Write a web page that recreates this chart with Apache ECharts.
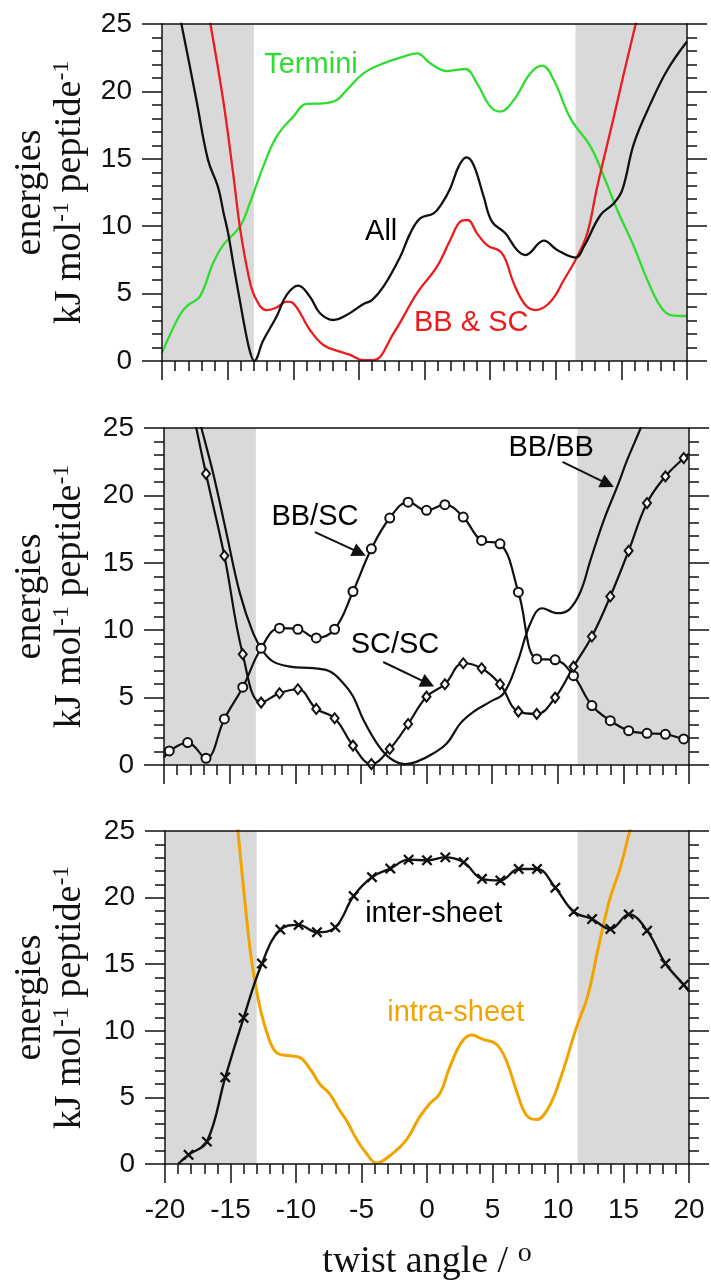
<!DOCTYPE html>
<html>
<head>
<meta charset="utf-8">
<script src="https://cdn.jsdelivr.net/npm/echarts@6.0.0/dist/echarts.min.js"></script>
<style>
	html, body { margin: 0; padding: 0; background: #fff; }
	#chart { width: 711px; height: 1282px; }
</style>
</head>
<body>
<div id="chart"></div>
<script>
// x range and shaded twist regions
var xTicks = [-20, 20, 5];
var yTicks = [0, 25, 5];
var shadeLeft = [-20, -13];
var shadeRight = [11.5, 20];

// panel 1
var allEnergy = [[-20, 32], [-18.52, 25], [-17.38, 19.36], [-16.49, 14.9], [-15.73, 12.9], [-15.3, 10.95], [-14.96, 9.47], [-14.53, 7.0], [-14.07, 4.5], [-13.61, 2.05], [-13.26, 0.57], [-12.98, 0], [-12.3, 1.5], [-11.27, 3.3], [-10.5, 4.9], [-9.62, 5.59], [-8.73, 4.77], [-7.96, 3.54], [-6.95, 3.04], [-5.93, 3.41], [-4.65, 4.23], [-4.0, 4.52], [-3.13, 5.51], [-1.85, 7.74], [-1.09, 9.47], [-0.33, 10.58], [0.69, 10.95], [1.33, 11.7], [1.96, 12.8], [2.6, 14.42], [3.19, 15.1], [3.74, 14.54], [4.51, 12.19], [5.14, 10.34], [6.16, 9.47], [7.05, 8.23], [7.69, 7.86], [9.09, 8.93], [10.11, 8.23], [11.5, 7.67], [12.14, 8.48], [13.41, 10.83], [14.43, 11.7], [15.07, 12.69], [15.96, 16.15], [17.23, 19.11], [18.5, 21.59], [20, 23.7]];
var bbAndSc = [[-16.6, 26.5], [-16.31, 25], [-15.34, 19.36], [-14.58, 13.92], [-14.07, 9.97], [-13.44, 6.5], [-12.93, 4.77], [-12.04, 3.78], [-11.3, 3.95], [-10.51, 4.4], [-10.0, 4.28], [-8.73, 2.3], [-7.71, 1.19], [-6.44, 0.69], [-5.67, 0.45], [-4.65, 0.07], [-3.89, 0.07], [-2.36, 2.05], [-0.58, 5.02], [0.95, 7.0], [1.96, 8.98], [2.73, 10.34], [3.29, 10.46], [4.0, 9.47], [4.76, 8.6], [5.91, 7.99], [6.8, 5.76], [7.69, 4.15], [8.45, 3.78], [9.6, 4.4], [10.62, 6.01], [11.63, 7.74], [12.4, 9.47], [13.16, 12.93], [14.43, 18.13], [15.19, 21.34], [16.09, 25], [16.4, 26.2]];
var termini = [[-20, 0.6], [-18.65, 3.41], [-18.02, 4.15], [-17.12, 4.77], [-16.11, 7.25], [-15.34, 8.6], [-14.07, 9.97], [-13.31, 11.7], [-12.29, 14.42], [-11.27, 16.64], [-10.0, 18.13], [-8.98, 19.07], [-7.71, 19.11], [-6.69, 19.36], [-5.93, 20.1], [-4.65, 21.34], [-3.13, 22.08], [-1.6, 22.58], [-0.58, 22.82], [0.44, 22.08], [1.71, 21.51], [3.11, 21.66], [4.0, 20.6], [5.02, 18.87], [5.78, 18.5], [6.8, 19.36], [8.07, 21.34], [8.96, 21.91], [9.85, 20.85], [11.12, 18.0], [12.65, 15.9], [13.67, 13.67], [14.69, 11.2], [15.96, 8.48], [16.98, 6.01], [17.99, 4.03], [18.76, 3.41], [20, 3.34]];

// panel 2 (markers sit on the 1.4 degree grid)
var bbSc = [[-20, 0.55], [-19.6, 1.04], [-18.2, 1.66], [-16.8, 0.5], [-15.4, 3.42], [-14.0, 5.77], [-12.6, 8.66], [-11.2, 10.15], [-9.8, 10.07], [-8.4, 9.43], [-7.0, 10.07], [-5.6, 12.87], [-4.2, 16.04], [-2.8, 18.32], [-1.4, 19.5], [0, 18.89], [1.4, 19.31], [2.8, 18.39], [4.2, 16.66], [5.6, 16.41], [7.0, 12.82], [8.4, 7.87], [9.8, 7.8], [11.2, 6.63], [12.6, 4.41], [14.0, 3.29], [15.4, 2.55], [16.8, 2.35], [18.2, 2.28], [19.6, 1.93], [20, 1.85]];
var scSc = [[-17.8, 26.2], [-16.8, 21.6], [-15.4, 15.52], [-14.0, 8.22], [-12.6, 4.63], [-11.2, 5.32], [-9.8, 5.62], [-8.4, 4.16], [-7.0, 3.47], [-5.6, 1.44], [-4.2, 0.07], [-2.8, 1.19], [-1.4, 3.04], [0, 5.07], [1.4, 5.99], [2.8, 7.55], [4.2, 7.18], [5.6, 5.99], [7.0, 3.96], [8.4, 3.79], [9.8, 5.0], [11.2, 7.3], [12.6, 9.53], [14.0, 12.5], [15.4, 15.89], [16.8, 19.43], [18.2, 21.41], [19.6, 22.77], [20, 23.1]];
var bbBb = [[-17.5, 26.3], [-17.15, 25], [-16.26, 21.66], [-15.24, 17.2], [-14.22, 12.75], [-13.21, 9.78], [-12.44, 8.42], [-11.68, 7.67], [-10.41, 7.3], [-8.63, 7.18], [-7.35, 6.93], [-6.34, 6.06], [-5.6, 5.1], [-4.8, 3.34], [-3.78, 1.61], [-2.77, 0.5], [-1.62, 0.07], [-0.73, 0.25], [0.54, 0.87], [1.56, 1.61], [2.58, 3.09], [3.6, 3.96], [4.87, 4.7], [5.88, 5.32], [6.9, 7.55], [7.92, 10.52], [8.81, 11.63], [9.96, 11.26], [10.85, 11.51], [11.74, 12.87], [12.5, 15.22], [13.52, 18.19], [14.54, 20.67], [15.3, 22.65], [16.32, 25], [16.7, 26]];

// panel 3
var interSheet = [[-19.0, 0], [-18.2, 0.69], [-16.8, 1.68], [-15.4, 6.51], [-14.0, 10.97], [-12.6, 15.05], [-11.2, 17.6], [-9.8, 17.95], [-8.4, 17.4], [-7.0, 17.77], [-5.6, 20.12], [-4.2, 21.53], [-2.8, 22.18], [-1.4, 22.85], [0, 22.8], [1.4, 23.02], [2.8, 22.65], [4.2, 21.41], [5.6, 21.29], [7.0, 22.15], [8.4, 22.15], [9.8, 20.74], [11.2, 18.94], [12.6, 18.39], [14.0, 17.65], [15.4, 18.74], [16.8, 17.52], [18.2, 15.05], [19.6, 13.45], [20, 12.94]];
var intraSheet = [[-14.6, 26.5], [-14.43, 25], [-13.92, 19.88], [-13.41, 15.42], [-12.9, 12.45], [-12.26, 9.98], [-11.5, 8.37], [-10.48, 8.12], [-9.72, 8.0], [-8.83, 7.0], [-8.19, 6.01], [-7.43, 5.27], [-6.67, 4.03], [-6.1, 3.2], [-5.4, 1.9], [-4.7, 0.9], [-3.86, 0.08], [-2.59, 0.82], [-1.57, 1.81], [-0.56, 3.54], [0.21, 4.53], [0.97, 5.27], [1.73, 7.25], [2.62, 9.11], [3.39, 9.68], [4.28, 9.36], [5.3, 8.99], [6.06, 7.75], [6.82, 5.52], [7.59, 3.66], [8.35, 3.34], [9.24, 4.16], [10.13, 6.26], [11.4, 10.22], [12.29, 12.7], [13.06, 16.16], [13.95, 19.88], [14.71, 22.1], [15.47, 25], [15.7, 26]];

var axisColor = '#111';
var crossPath = 'path://M0,0.7L0.7,0L5,4.3L9.3,0L10,0.7L5.7,5L10,9.3L9.3,10L5,5.7L0.7,10L0,9.3L4.3,5Z';

function init() {
	var grids = [
		{left: 162, top: 24, width: 525, height: 337},
		{left: 164, top: 428, width: 525, height: 337},
		{left: 165, top: 831, width: 524, height: 337}
	];
	var xAxes = [], yAxes = [], series = [];
	grids.forEach(function(g, i) {
		xAxes.push(bottomAxis(i, i === 2));
		xAxes.push(topAxis(i));
		yAxes.push(sideAxis(i, 'left', g.left - 90));
		yAxes.push(sideAxis(i, 'right', 0));
		series.push(shadeSeries(i));
	});

	//上图
	series.push(curve(0, 'Termini', termini, '#2fdc2f', 2.3));
	series.push(curve(0, 'BB & SC', bbAndSc, '#ec1c1c', 2.3));
	series.push(curve(0, 'All', allEnergy, '#111', 2.3));
	series.push(textSeries(0, [
		[-8.65, 21.96, 'Termini', '#2fdc2f'],
		[-3.3, 9.57, 'All', '#000'],
		[3.56, 2.82, 'BB & SC', '#ec1c1c']
	]));

	//中图
	var sc = curve(1, 'BB/SC', bbSc, '#111', 2.2, 'emptyCircle', 9);
	sc.markLine = arrows([
		[[-8.5, 17.28], [-5.1, 15.75]],
		[[10.36, 22.48], [13.8, 20.85]],
		[[-3.3, 7.64], [0.1, 6.05]]
	]);
	series.push(sc);
	series.push(curve(1, 'SC/SC', scSc, '#111', 2.2, 'emptyDiamond', [8, 10]));
	series.push(curve(1, 'BB/BB', bbBb, '#111', 2.2));
	series.push(textSeries(1, [
		[-8.5, 18.4, 'BB/SC', '#000'],
		[9.5, 23.5, 'BB/BB', '#000'],
		[-2.4, 8.9, 'SC/SC', '#000']
	]));

	//下图
	series.push(curve(2, 'intra-sheet', intraSheet, '#f2a300', 3));
	series.push(curve(2, 'inter-sheet', interSheet, '#111', 2.4, crossPath, 9));
	series.push(textSeries(2, [
		[0.51, 18.77, 'inter-sheet', '#000'],
		[2.19, 11.35, 'intra-sheet', '#f2a300']
	]));

	var option = {
		backgroundColor: '#fff',
		animation: false,
		grid: grids,
		xAxis: xAxes,
		yAxis: yAxes,
		series: series
	};
	var chart = echarts.init(document.getElementById('chart'));
	chart.setOption(option);
}

function tickStyle() {
	return {color: axisColor, width: 1.5};
}

function bottomAxis(gi, withLabels) {
	var axis = {
		type: 'value',
		gridIndex: gi,
		position: 'bottom',
		min: xTicks[0],
		max: xTicks[1],
		interval: xTicks[2],
		z: 5,
		axisLine: {show: true, onZero: false, lineStyle: tickStyle()},
		axisTick: {show: true, inside: false, length: 19, lineStyle: tickStyle()},
		minorTick: {show: true, splitNumber: 5, length: 10, lineStyle: tickStyle()},
		splitLine: {show: false},
		axisLabel: {
			show: withLabels,
			margin: 32,
			fontSize: 28,
			fontFamily: 'Liberation Sans',
			color: axisColor
		}
	};
	if(withLabels) {
		axis.name = '{a|twist angle / }{s|o}';
		axis.nameLocation = 'middle';
		axis.nameGap = 76;
		axis.nameTextStyle = {
			rich: {
				a: {fontFamily: 'Liberation Serif', fontSize: 38, lineHeight: 44, color: axisColor},
				s: {fontFamily: 'Liberation Serif', fontSize: 28, lineHeight: 26, verticalAlign: 'top', color: axisColor}
			}
		};
	}
	return axis;
}

function topAxis(gi) {
	return {
		type: 'value',
		gridIndex: gi,
		position: 'top',
		min: xTicks[0],
		max: xTicks[1],
		z: 5,
		axisLine: {show: true, onZero: false, lineStyle: tickStyle()},
		axisTick: {show: false},
		axisLabel: {show: false},
		splitLine: {show: false}
	};
}

function sideAxis(gi, pos, gap) {
	var left = pos === 'left';
	var axis = {
		type: 'value',
		gridIndex: gi,
		position: pos,
		min: yTicks[0],
		max: yTicks[1],
		interval: yTicks[2],
		z: 5,
		axisLine: {show: true, onZero: false, lineStyle: tickStyle()},
		axisTick: {show: true, inside: false, length: 20, lineStyle: tickStyle()},
		minorTick: {show: true, splitNumber: 5, length: 10, lineStyle: tickStyle()},
		splitLine: {show: false},
		axisLabel: {
			show: left,
			margin: 30,
			fontSize: 28,
			fontFamily: 'Liberation Sans',
			color: axisColor
		}
	};
	if(left) {
		axis.name = '{a|energies}\n{a|kJ mol}{s|-1}{a| peptide}{s|-1}';
		axis.nameLocation = 'middle';
		axis.nameRotate = 90;
		axis.nameGap = gap;
		axis.nameTextStyle = {
			rich: {
				a: {fontFamily: 'Liberation Serif', fontSize: 38, lineHeight: 40, color: axisColor},
				s: {fontFamily: 'Liberation Serif', fontSize: 24, lineHeight: 24, verticalAlign: 'top', color: axisColor}
			}
		};
	}
	return axis;
}

//灰色区域
function shadeSeries(gi) {
	return {
		type: 'line',
		xAxisIndex: gi * 2,
		yAxisIndex: gi * 2,
		data: [],
		z: 1,
		silent: true,
		markArea: {
			silent: true,
			itemStyle: {color: '#d9d9d9'},
			data: [
				[{xAxis: shadeLeft[0]}, {xAxis: shadeLeft[1]}],
				[{xAxis: shadeRight[0]}, {xAxis: shadeRight[1]}]
			]
		}
	};
}

function curve(gi, name, data, color, width, symbol, size) {
	var points = data.map(function(p) {
		if(!symbol) {
			return p;
		}
		var k = p[0] / 1.4;
		if(Math.abs(k - Math.round(k)) < 1e-6) {
			return {value: p};
		}
		return {value: p, symbol: 'none'};
	});
	return {
		name: name,
		type: 'line',
		xAxisIndex: gi * 2,
		yAxisIndex: gi * 2,
		data: points,
		smooth: 0.4,
		clip: true,
		z: 3,
		symbol: symbol || 'none',
		symbolSize: size || 0,
		showSymbol: !!symbol,
		showAllSymbol: true,
		lineStyle: {color: color, width: width},
		itemStyle: {color: color, borderColor: color, borderWidth: 1.4}
	};
}

function textSeries(gi, items) {
	return {
		type: 'scatter',
		xAxisIndex: gi * 2,
		yAxisIndex: gi * 2,
		silent: true,
		z: 4,
		symbolSize: 1,
		itemStyle: {color: 'rgba(0,0,0,0)', opacity: 1},
		data: items.map(function(t) {
			return {
				value: [t[0], t[1]],
				label: {
					show: true,
					position: 'inside',
					formatter: t[2],
					color: t[3],
					fontSize: 29,
					fontFamily: 'Liberation Sans'
				}
			};
		})
	};
}

function arrows(list) {
	return {
		silent: true,
		symbol: ['none', 'triangle'],
		symbolSize: 14,
		label: {show: false},
		lineStyle: {color: '#111', width: 2, type: 'solid'},
		data: list.map(function(a) {
			return [{coord: a[0]}, {coord: a[1]}];
		})
	};
}

init();
</script>
</body>
</html>
